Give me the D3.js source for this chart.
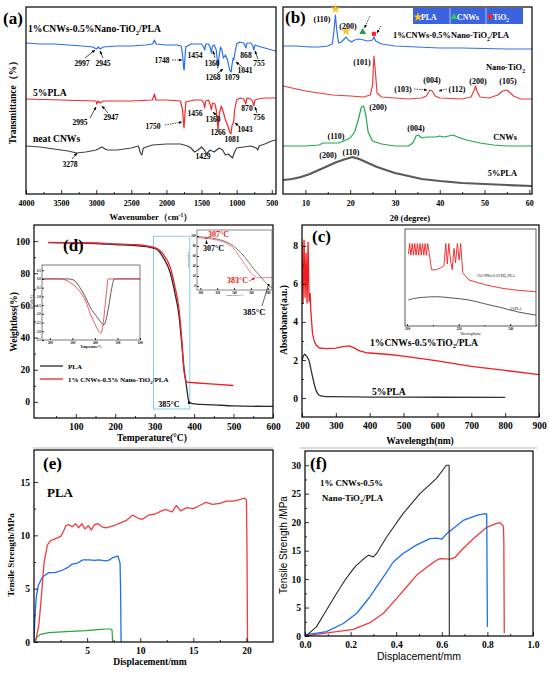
<!DOCTYPE html>
<html><head><meta charset="utf-8">
<script src="https://cdnjs.cloudflare.com/ajax/libs/d3/7.8.5/d3.min.js"></script>
<style>body{margin:0;background:#fff}</style></head>
<body><svg id="c" width="550" height="674"></svg>
<script>
const F="'Liberation Serif','Times New Roman',serif";
const S="'Liberation Sans',Arial,sans-serif";

// ---------- (a) FTIR : [wavenumber, transmittance a.u.]
const ftirTicks=[4000,3500,3000,2500,2000,1500,1000,500];
const ftirComposite=[[4000,157],[3800,156],[3600,156],[3400,155],[3200,154],[3050,153],[2997,151],[2970,153],[2945,151],[2900,153],[2700,154],[2500,154],[2300,155],[2200,156],[2170,160],[2150,156],[2000,155],[1850,155],[1790,154],[1770,145],[1755,132],[1748,130],[1740,138],[1725,153],[1650,156],[1560,156],[1500,156],[1470,153],[1454,150],[1440,156],[1400,156],[1375,152],[1360,147],[1345,154],[1320,155],[1290,150],[1268,132],[1250,144],[1230,153],[1210,150],[1190,142],[1160,145],[1130,140],[1100,130],[1079,128],[1065,136],[1050,142],[1041,140],[1030,145],[1000,156],[960,158],[900,157],[880,154],[868,152],[855,157],[800,157],[770,154],[755,150],[740,155],[700,154],[600,152],[500,150],[440,149]];
const ftirPLA=[[4000,101],[3500,100],[3000,99],[2995,96],[2970,99],[2947,97],[2900,99],[2500,99],[2200,100],[2170,106],[2150,100],[2000,100],[1800,99],[1770,90],[1755,75],[1750,72],[1740,82],[1725,98],[1600,100],[1500,100],[1470,97],[1456,92],[1440,99],[1400,100],[1375,95],[1360,90],[1345,97],[1310,96],[1290,90],[1266,70],[1250,85],[1220,94],[1190,88],[1160,80],[1130,75],[1100,68],[1081,66],[1065,75],[1043,78],[1030,90],[1000,100],[950,102],[900,101],[880,98],[870,96],[855,102],[800,101],[770,98],[756,94],[740,100],[700,101],[600,102],[500,102],[440,102]];
const ftirCNW=[[4000,54],[3800,53],[3600,51],[3400,49],[3278,47],[3150,48],[3000,50],[2920,53],[2850,50],[2700,50],[2500,52],[2400,54],[2370,47],[2350,45],[2330,52],[2200,55],[2000,56],[1800,56],[1700,54],[1650,52],[1600,48],[1550,50],[1500,53],[1460,50],[1429,46],[1380,50],[1320,48],[1250,52],[1200,50],[1160,45],[1120,46],[1060,42],[1030,48],[1000,52],[900,53],[800,54],[720,52],[700,50],[680,54],[600,56],[500,59],[440,60]];

// ---------- (b) XRD : [2theta, intensity a.u.]
const xrdTicks=[10,20,30,40,50,60];
const xrdComposite=[[5,154],[8,154],[11,153],[13,153],[15,154],[16,156],[16.4,170],[16.7,185],[17,170],[17.4,157],[18,158],[18.7,161],[19.1,163],[19.6,160],[20.3,158],[21,160],[22,161],[23,160],[24,159],[25,160],[25.3,163],[25.7,159],[27,156],[30,154],[35,153],[40,152],[45,152],[50,151.5],[55,151],[60.6,151]];
const xrdTiO2=[[5,114],[7,112],[10,109],[13,107],[16,105],[20,104],[23,103],[24.5,105],[25,115],[25.3,144],[25.6,130],[26,107],[27,103],[30,102],[33,101],[36,102],[37,104],[37.8,110],[38.3,109],[38.6,107],[39,104],[40,102],[45,101],[47,103],[47.7,110],[48,114],[48.4,108],[49,103],[51,102],[53,105],[54,109],[55,110],[55.5,108],[56.5,104],[58,101],[60.6,101]];
const xrdCNW=[[5,54],[10,54],[13,55],[14,57],[16,57],[17.5,57],[18.5,59],[20,62],[21,68],[21.8,80],[22.5,93],[23,94],[23.5,85],[24,68],[25,59],[27,56],[30,54],[33,54],[34,57],[34.7,64],[35.2,65],[36,62],[37,63],[39,63],[40,64],[41,63],[42,64],[43,65],[44,63],[46,60],[49,57],[52,55],[55,54],[60.6,54]];
const xrdPLA=[[5,20],[7,21],[9,23],[11,26],[13,30],[15,34],[17,38],[19,41],[20.5,43],[22,41],[24,37],[26,33],[28,30],[30,27],[33,24],[36,21],[40,19],[45,17],[50,16],[55,15],[60.6,14]];

// ---------- (d) TGA : [temperature °C, weight %]
const tgaXTicks=[100,200,300,400,500,600];
const tgaYTicks=[0,20,40,60,80,100];
const tgaPLA=[[30,99],[100,98.8],[150,98.5],[200,97.8],[250,97.2],[280,96.5],[305,95],[321,90],[339,80.6],[351,68],[362,53],[368,38],[374,22],[381,9],[387,0],[400,-1.2],[450,-1.8],[500,-2.5],[600,-2.8]];
const tgaComp=[[30,99.2],[100,99],[150,98.8],[200,98.3],[250,97.8],[280,97],[305,95.5],[321,92],[339,84],[351,72],[362,57],[368,41],[374,20],[378,14],[382,12.3],[397,12],[450,11],[500,10.2]];
const dtgPLA=[[165,0],[280,0],[303,-0.05],[334,-0.5],[360,-1.1],[378,-1.6],[408,-2.16],[425,-2.45],[440,-2.64],[450,-2.3],[462,-1.5],[472,-0.7],[480,-0.2],[485,0],[600,0]];
const dtgComp=[[165,0],[250,0],[267,-0.05],[300,-0.3],[334,-0.73],[360,-1.3],[378,-1.95],[395,-2.45],[408,-2.8],[420,-3.05],[427,-3.1],[435,-2.7],[443,-1.8],[450,-0.9],[455,-0.3],[458,0],[600,0]];
const tgZoomPLA=[[296,98.6],[319.4,94],[338.7,80.6],[350.6,62],[362.5,36],[372.8,16],[380.3,2],[385,-3.4]];
const tgZoomComp=[[296,96.6],[319.4,92],[338.7,76],[350.6,48.6],[362.5,22],[368.4,16.6],[385,16.6]];

// ---------- (c) UV-vis : [wavelength nm, absorbance]
const uvXTicks=[200,300,400,500,600,700,800,900];
const uvYTicks=[0,2,4,6,8];
const uvComp=[[200,8.2],[203,5.0],[206,8.3],[209,5.3],[212,7.6],[215,5.0],[218,8.2],[221,5.1],[224,5.5],[226,4.6],[231,3.4],[236,3.0],[241,2.8],[251,2.63],[270,2.6],[300,2.62],[320,2.7],[340,2.74],[355,2.62],[370,2.48],[390,2.38],[450,2.3],[500,2.2],[600,1.95],[700,1.66],[800,1.45],[900,1.23]];
const uvPLA=[[200,2.0],[204,2.2],[208,2.3],[213,2.2],[221,1.95],[226,1.55],[231,1.13],[236,0.75],[241,0.42],[246,0.25],[250,0.16],[260,0.1],[280,0.07],[400,0.05],[600,0.04],[800,0.03]];
const uvZoomComp=[[200.5,7.4],[201,8.5],[201.5,7.3],[202,8.5],[202.5,7.3],[203,8.5],[203.5,7.3],[204,8.5],[204.5,7.3],[205,8.5],[205.5,7.3],[206,8.5],[206.5,7.3],[207,8.5],[207.5,7.3],[208,8.5],[208.6,7.5],[209.5,5.8],[211.4,5.8],[213,6.0],[214.3,6.2],[215,8.5],[215.6,6.4],[216.2,8.5],[216.8,6.9],[217.5,5.8],[218.2,8.0],[218.8,6.5],[219.5,8.5],[220.2,6.8],[220.8,8.5],[221.6,5.5],[224,4.74],[230.6,4.23],[237,3.88],[243,3.68],[250,3.53]];
const uvZoomPLA=[[200.5,2.68],[203,2.85],[206,2.95],[211.4,3.02],[217,2.9],[224,2.68],[230,2.3],[237,1.86],[243,1.45],[250,1.13]];

// ---------- (e) tensile PLA : [displacement mm, MPa]
const eXTicks=[5,10,15,20];
const eYTicks=[0,5,10,15];
const eRed=[[0.16,0.03],[0.47,1.75],[0.72,4.56],[0.94,7.4],[1.26,9.1],[1.57,9.5],[2.04,9.7],[2.52,9.9],[2.83,10.5],[3.0,10.9],[3.3,11.0],[3.6,10.8],[3.9,11.1],[4.2,10.7],[4.5,11.1],[4.8,10.6],[5.1,10.9],[5.4,10.5],[5.7,11.0],[6.0,11.1],[6.4,10.8],[6.8,10.7],[7.5,10.9],[8.2,11.2],[8.7,11.4],[9.3,11.9],[9.8,11.6],[10.2,11.5],[10.8,11.9],[11.4,12.0],[12.0,12.3],[12.4,12.4],[13.0,12.2],[13.4,12.8],[13.8,12.3],[14.4,12.6],[15.0,12.5],[15.6,12.8],[16.2,13.1],[16.8,12.9],[17.5,13.0],[18.1,13.2],[18.7,13.2],[19.2,13.3],[19.8,13.5],[20.0,13.3],[20.05,9],[20.1,0]];
const eBlue=[[0,0],[0.09,2.4],[0.22,4.25],[0.41,5.3],[0.79,6.1],[1.4,6.5],[2.0,6.5],[2.7,6.75],[3.2,7.0],[3.6,7.3],[4.1,7.4],[4.6,7.7],[5.2,7.7],[5.7,7.65],[6.1,7.7],[6.8,7.6],[7.1,7.7],[7.4,7.9],[7.9,8.06],[8.1,7.4],[8.15,5],[8.2,0]];
const eGreen=[[0,0],[0.3,0.5],[0.63,0.72],[1.4,0.88],[3.0,0.97],[4.9,1.06],[6.3,1.18],[6.8,1.22],[7.2,1.22],[7.35,1.1],[7.4,0]];

// ---------- (f) tensile composite : [displacement mm, MPa]
const fXTicks=[0,0.2,0.4,0.6,0.8,1.0];
const fYTicks=[0,5,10,15,20,25,30];
const fBlack=[[0.007,0.1],[0.05,1.6],[0.095,4.6],[0.139,7.5],[0.175,9.8],[0.197,11],[0.22,12.2],[0.25,13.3],[0.278,14.2],[0.3,13.9],[0.314,14.5],[0.358,17.4],[0.43,21.5],[0.504,25],[0.577,27.7],[0.62,30],[0.632,30],[0.633,0]];
const fBlue=[[0.0,0.2],[0.095,0.76],[0.168,2.2],[0.227,4.0],[0.285,6.9],[0.344,10.4],[0.387,13],[0.43,14.5],[0.49,16],[0.548,17.1],[0.577,17.2],[0.6,17.0],[0.62,17.9],[0.65,18.9],[0.694,20.3],[0.753,21.2],[0.79,21.5],[0.797,21.4],[0.8,1.6]];
const fRed=[[0.007,0.06],[0.139,0.76],[0.212,1.17],[0.285,2.34],[0.344,4.0],[0.402,6.6],[0.446,8.65],[0.49,10.7],[0.519,11.6],[0.548,12.5],[0.577,13.3],[0.592,13.6],[0.636,13.5],[0.658,13.8],[0.687,15.1],[0.738,17.1],[0.797,19.1],[0.84,19.8],[0.855,19.9],[0.87,19.3],[0.872,17],[0.874,0.5]];

// =====================================================
const svg=d3.select('#c');
const defs=svg.append('defs');
function mk(id,col){defs.append('marker').attr('id',id).attr('viewBox','0 0 10 10').attr('refX',9).attr('refY',5)
 .attr('markerWidth',5).attr('markerHeight',5).attr('orient','auto').append('path').attr('d','M0,1L10,5L0,9z').attr('fill',col);}
mk('ah','#000');mk('ahr','#e02020');
let cid=0;
function panel(b,xd,yd){
 const x=d3.scaleLinear().domain(xd).range([b[0],b[2]]);
 const y=d3.scaleLinear().domain(yd).range([b[3],b[1]]);
 const id='cp'+(cid++);
 defs.append('clipPath').attr('id',id).append('rect').attr('x',b[0]).attr('y',b[1]).attr('width',b[2]-b[0]).attr('height',b[3]-b[1]);
 const g=svg.append('g').attr('clip-path',`url(#${id})`);
 return {x,y,b,g};
}
function frame(b,sw,col){svg.append('rect').attr('x',b[0]).attr('y',b[1]).attr('width',b[2]-b[0]).attr('height',b[3]-b[1])
 .attr('fill','none').attr('stroke',col||'#000').attr('stroke-width',sw||1.2);}
function plot(p,data,col,w,curve){p.g.append('path').datum(data).attr('d',d3.line().x(d=>p.x(d[0])).y(d=>p.y(d[1])).curve(curve||d3.curveLinear))
 .attr('fill','none').attr('stroke',col).attr('stroke-width',w||1).attr('stroke-linejoin','round');}
function axB(p,ticks,minor,fs,fmt,pad,ts){
 const g=svg.append('g').attr('transform',`translate(0,${p.b[3]})`);
 if(minor) g.append('g').call(d3.axisBottom(p.x).tickValues(minor).tickSize(-(ts||4)/2).tickFormat('')).call(s=>s.select('.domain').remove());
 const a=g.append('g').call(d3.axisBottom(p.x).tickValues(ticks).tickSizeInner(-(ts||4)).tickSizeOuter(0).tickPadding(pad).tickFormat(fmt||(d=>d)));
 a.select('.domain').remove();
 a.attr('font-family',F).attr('font-size',fs).attr('font-weight','bold');
 g.selectAll('line').attr('stroke-width',0.8);
 return a;
}
function axL(p,ticks,minor,fs,fmt,pad,ts){
 const g=svg.append('g').attr('transform',`translate(${p.b[0]},0)`);
 if(minor) g.append('g').call(d3.axisLeft(p.y).tickValues(minor).tickSize(-(ts||4)/2).tickFormat('')).call(s=>s.select('.domain').remove());
 const a=g.append('g').call(d3.axisLeft(p.y).tickValues(ticks).tickSizeInner(-(ts||4)).tickSizeOuter(0).tickPadding(pad).tickFormat(fmt||(d=>d)));
 a.select('.domain').remove();
 a.attr('font-family',F).attr('font-size',fs).attr('font-weight','bold');
 g.selectAll('line').attr('stroke-width',0.8);
 return a;
}
function T(x,y,parts,o={}){
 const fs=o.fs||9;
 const t=svg.append('text').attr('x',x).attr('y',y).attr('font-family',o.ff||F).attr('font-weight',o.fw||'bold')
  .attr('font-size',fs).attr('fill',o.c||'#000').attr('text-anchor',o.a||'start');
 if(o.rot) t.attr('transform',`rotate(-90,${x},${y})`);
 let reset=0;
 (typeof parts==='string'?[parts]:parts).forEach(pp=>{
  if(typeof pp==='string'){const s=t.append('tspan').text(pp); if(reset){s.attr('dy',reset);reset=0;}}
  else{const sf=fs*0.68; const sub=pp[1]==='sub'; const d=sub?fs*0.3:-fs*0.38;
   t.append('tspan').attr('font-size',sf).attr('dy',d+(reset||0)).text(pp[0]); reset=-d;}
 });
 return t;
}
function arrow(x1,y1,x2,y2,o={}){svg.append('line').attr('x1',x1).attr('y1',y1).attr('x2',x2).attr('y2',y2)
 .attr('stroke',o.c||'#000').attr('stroke-width',o.w||0.7).attr('stroke-dasharray',o.dash?'1.5,1':null)
 .attr('marker-end',o.noHead?null:`url(#${o.c?'ahr':'ah'})`);}
const fmtInt=d=>d;

// ================= (a) =================
const pa=panel([26,7,276,194],[4000,440],[6,193]);
plot(pa,ftirCNW,'#404040',1.2);
plot(pa,ftirPLA,'#f22a2a',1.2);
plot(pa,ftirComposite,'#2470ee',1.2);
frame(pa.b);
axB(pa,ftirTicks,d3.range(3750,400,-500),8,fmtInt,6);
T(3,24,'(a)',{fs:17});
T(28,32,['1%CNWs-0.5%Nano-TiO',['2','sub'],'/PLA'],{fs:9.6});
T(33,96,'5%PLA',{fs:9.6});
T(33,142,'neat CNWs',{fs:9.6});
T(151,220,['Wavenumber（cm',['-1','sup'],'）'],{fs:8.5,a:'middle'});
T(16,100,'Transmittance（%）',{fs:9.5,a:'middle',rot:true});
const ftLab=[['2997',82,66],['2945',103,66],['1748',162,63],['1454',195,58],['1360',212,66],['1268',213,80],['1079',232,80],['1041',245,73],['868',246,58],['755',259,66],
 ['2995',80,125],['2947',111,120],['1750',153,129],['1456',195,116],['1360',213,122],['1266',218,135],['1081',232,142],['1043',245,132],['870',247,111],['756',259,120],
 ['3278',70,167],['1429',203,159]];
ftLab.forEach(l=>T(l[1],l[2],l[0],{fs:7.6,a:'middle'}));
[[85,58,95,50],[103,58,100,51],[215,58,213,51],[217,74,223,69],[242,67,236,62],[258,59,255,51],
 [90,118,96,107],[108,113,102,106],[218,117,213,112],[240,127,235,123],[257,113,255,107],[72,159,77,153]].forEach(a=>arrow(...a));
arrow(172,60,182,60,{dash:true});arrow(165,125,182,122,{dash:true});

// ================= (b) =================
const pb=panel([283,7,532,194],[5,60.6],[6,193]);
plot(pb,xrdPLA,'#5a5a5a',2.2);
plot(pb,xrdCNW,'#22a84a',1.2);
plot(pb,xrdTiO2,'#f03a3a',1.2);
plot(pb,xrdComposite,'#2f74e6',1.2);
frame(pb.b);
axB(pb,xrdTicks,d3.range(5,61,10).filter(v=>v>5),8,fmtInt,6);
T(285,23,'(b)',{fs:17});
// legend
const lg=svg.append('g');
lg.append('rect').attr('x',413).attr('y',8).attr('width',110).attr('height',16).attr('fill','#3b63e0');
[450,486].forEach(xx=>lg.append('line').attr('x1',xx).attr('x2',xx).attr('y1',8).attr('y2',24).attr('stroke','#c8d4ff').attr('stroke-width',0.8));
const star=d3.symbol().type(d3.symbolStar).size(28)();
const tri=d3.symbol().type(d3.symbolTriangle).size(20)();
const cir=d3.symbol().type(d3.symbolCircle).size(18)();
lg.append('path').attr('d',star).attr('transform','translate(418,17)').attr('fill','#ffc21a');
lg.append('path').attr('d',tri).attr('transform','translate(454,17)').attr('fill','#2bd04a');
lg.append('path').attr('d',cir).attr('transform','translate(490,16.5)').attr('fill','#ff2020');
T(421,19.5,'PLA',{fs:7.8,c:'#fff'});T(457,19.5,'CNWs',{fs:7.8,c:'#fff'});T(493,19.5,['TiO',['2','sub']],{fs:7.8,c:'#fff'});
// markers on composite peaks
svg.append('path').attr('d',star).attr('transform',`translate(${pb.x(16.7)},${pb.y(191)})`).attr('fill','#ffc21a');
svg.append('path').attr('d',star).attr('transform',`translate(${pb.x(19.1)},${pb.y(169)})`).attr('fill','#ffc21a');
svg.append('path').attr('d',tri).attr('transform',`translate(${pb.x(22.8)},${pb.y(168)})`).attr('fill','#20a040');
svg.append('path').attr('d',cir).attr('transform',`translate(${pb.x(25.3)},${pb.y(166)})`).attr('fill','#ff2020');
arrow(370,16,364.5,28,{dash:true});arrow(381,26,377,33,{dash:true});
T(322,22,'(110)',{fs:8,a:'middle'});T(348,29,'(200)',{fs:8,a:'middle'});
T(393,38,['1%CNWs-0.5%Nano-TiO',['2','sub'],'/PLA'],{fs:8.4});
T(525,70,['Nano-TiO',['2','sub']],{fs:8.4,a:'end'});
T(362,65,'(101)',{fs:8,a:'middle'});
T(403,92,'(103)',{fs:8,a:'middle'});arrow(414,89,427,90,{dash:true});
T(432,83,'(004)',{fs:8,a:'middle'});
T(457,92,'(112)',{fs:8,a:'middle'});arrow(447,89,439,91,{dash:true});
T(478,84,'(200)',{fs:8,a:'middle'});T(508,84,'(105)',{fs:8,a:'middle'});
T(378,110,'(200)',{fs:8,a:'middle'});T(336,139,'(110)',{fs:8,a:'middle'});T(416,131,'(004)',{fs:8,a:'middle'});
T(517,140,'CNWs',{fs:8.4,a:'end'});
T(328,158,'(200)',{fs:8,a:'middle'});T(351,155,'(110)',{fs:8,a:'middle'});
T(517,176,'5%PLA',{fs:8.4,a:'end'});
T(410,221,'2θ (degree)',{fs:8.5,a:'middle'});

// ================= (d) =================
const pd=panel([34,225,273,418],[-6,600],[-10,110]);
pd.g.append('rect').attr('x',pd.x(297)).attr('y',pd.y(103)).attr('width',pd.x(389)-pd.x(297)).attr('height',pd.y(-4.4)-pd.y(103))
 .attr('fill','none').attr('stroke','#7fd0ee').attr('stroke-width',1);
plot(pd,tgaPLA,'#2a2a2a',1.3,d3.curveMonotoneX);
plot(pd,tgaComp,'#f0202a',1.3,d3.curveMonotoneX);
frame(pd.b);
axB(pd,tgaXTicks,[50,150,250,350,450,550],9.5,fmtInt,5);
axL(pd,tgaYTicks,[10,30,50,70,90],9.5,fmtInt,4);
T(63,251,'(d)',{fs:17});
T(152,441,'Temperature(°C)',{fs:9.5,a:'middle'});
T(17,322,'Weightloss(%)',{fs:9.5,a:'middle',rot:true});
T(169,407,'385°C',{fs:8.2,a:'middle'});
svg.append('circle').attr('cx',pd.x(387)).attr('cy',pd.y(-0.5)).attr('r',1.2).attr('fill','#000');
svg.append('line').attr('x1',40).attr('x2',63).attr('y1',366).attr('y2',366).attr('stroke','#2a2a2a').attr('stroke-width',1.3);
svg.append('line').attr('x1',40).attr('x2',63).attr('y1',379).attr('y2',379).attr('stroke','#f0202a').attr('stroke-width',1.3);
T(68,368.5,'PLA',{fs:7});
T(68,381.5,['1% CNWs-0.5% Nano-TiO',['2','sub'],'/PLA'],{fs:7});
// DTG inset
const pdi=panel([42,265,140,340],[165,600],[-3.5,0.8]);
plot(pdi,dtgPLA,'#333',0.8,d3.curveMonotoneX);
plot(pdi,dtgComp,'#e8303a',0.8,d3.curveMonotoneX);
frame(pdi.b,0.7,'#444');
axB(pdi,[200,300,400,500,600],null,3.2,fmtInt,1.5,2);
axL(pdi,[-3.5,-3,-2.5,-2,-1.5,-1,-0.5,0,0.5],null,3,d3.format('.1f'),1.2,2);
T(91,347.5,'Temperature/°C',{fs:3,a:'middle'});
T(33,302,'DTG(%/°C)',{fs:3,a:'middle',rot:true,fw:'normal'});
// TG zoom inset
const pdz=panel([197,230,272,290],[296,385],[-8,112]);
plot(pdz,tgZoomPLA,'#555',0.8,d3.curveMonotoneX);
plot(pdz,tgZoomComp,'#f06070',0.8,d3.curveMonotoneX);
frame(pdz.b,0.7,'#555');
axB(pdz,[300,320,340,360,380],null,3,fmtInt,1.5,2);
axL(pdz,[0,20,40,60,80,100],null,3,fmtInt,1.2,2);
T(234.5,296,'Temperature/°C',{fs:2.8,a:'middle',fw:'normal'});
T(189,260,'Weightloss(%)',{fs:2.8,a:'middle',rot:true,fw:'normal'});
T(208,237,'307°C',{fs:8,c:'#e82020'});
svg.append('circle').attr('cx',pdz.x(307)).attr('cy',pdz.y(95.5)).attr('r',1).attr('fill','#e82020');
T(203,251,'307°C',{fs:8});
arrow(206.5,244,206.5,240.5);
T(227,283,'383°C',{fs:8,c:'#e82020'});
arrow(249,281,255,278,{c:'#e82020'});
T(243,315,'385°C',{fs:8.5});
svg.append('line').attr('x1',262).attr('y1',306).attr('x2',268).attr('y2',286).attr('stroke','#000').attr('stroke-width',0.6);
svg.append('circle').attr('cx',pdz.x(381)).attr('cy',pdz.y(2)).attr('r',1.1).attr('fill','#000');

// ================= (c) =================
const pc=panel([302,225,539,417],[200,900],[-1,9.1]);
plot(pc,uvPLA,'#333',1.3,d3.curveMonotoneX);
plot(pc,uvComp,'#f01e1e',1.3);
frame(pc.b);
axB(pc,uvXTicks,null,9.5,fmtInt,5);
axL(pc,uvYTicks,[1,3,5,7],9.5,fmtInt,4);
T(312,242,'(c)',{fs:17});
T(370,345.5,['1%CNWs-0.5%TiO',['2','sub'],'/PLA'],{fs:9.6});
T(372,394.5,'5%PLA',{fs:9.6});
T(420,444,'Wavelength(nm)',{fs:9.5,a:'middle'});
T(287,320,'Absorbance(a.u.)',{fs:9.5,a:'middle',rot:true});
const pci=panel([405,229,536,326],[199.2,250],[0,10]);
plot(pci,uvZoomPLA,'#444',0.9,d3.curveMonotoneX);
plot(pci,uvZoomComp,'#f02020',0.9);
frame(pci.b,0.8,'#333');
axB(pci,[200,220,240],[210,230,250],3.3,fmtInt,1.5,2);
T(470.5,334.5,'Wavelength(nm)',{fs:3,a:'middle',fw:'normal'});
T(477,277,['1%CNWs-0.5%TiO',['2','sub'],'/PLA'],{fs:3.6,fw:'normal'});
T(510,310,'5%PLA',{fs:3.6,fw:'normal'});
svg.append('line').attr('x1',33).attr('x2',273).attr('y1',448).attr('y2',448).attr('stroke','#aaa').attr('stroke-width',0.8);
svg.append('line').attr('x1',300).attr('x2',537).attr('y1',448).attr('y2',448).attr('stroke','#aaa').attr('stroke-width',0.8);

// ================= (e) =================
const pe=panel([34,450,273,642],[0,22.5],[0,18]);
plot(pe,eGreen,'#2ca53c',1.2);
plot(pe,eBlue,'#1d6ff0',1.3);
plot(pe,eRed,'#f03c3c',1.3);
frame(pe.b);
axB(pe,eXTicks,[2.5,7.5,12.5,17.5],9.5,fmtInt,5);
axL(pe,eYTicks,[2.5,7.5,12.5],9.5,fmtInt,4);
T(43,469,'(e)',{fs:17});
T(47,497,'PLA',{fs:13});
T(150,665,'Displacement/mm',{fs:9.5,a:'middle'});
T(14,555,'Tensile Strength/MPa',{fs:9,a:'middle',rot:true});

// ================= (f) =================
const pf=panel([305,451,533,636],[0,1],[0,32.5]);
plot(pf,fRed,'#f03c3c',1.3);
plot(pf,fBlue,'#1d6ff0',1.3);
plot(pf,fBlack,'#2a2a2a',1.1);
frame(pf.b);
axB(pf,fXTicks,[0.1,0.3,0.5,0.7,0.9],9.5,d3.format('.1f'),5);
axL(pf,fYTicks,[2.5,7.5,12.5,17.5,22.5,27.5],9.5,fmtInt,4);
T(310,469,'(f)',{fs:17});
T(320,486,'1% CNWs-0.5%',{fs:8.8});
T(322,501,['Nano-TiO',['2','sub'],'/PLA'],{fs:8.8});
T(419,660,'Displacement/mm',{fs:10.5,a:'middle',ff:S,fw:'normal'});
T(287,545,'Tensile Strength /MPa',{fs:10,a:'middle',rot:true,ff:S,fw:'normal'});
</script></body></html>
